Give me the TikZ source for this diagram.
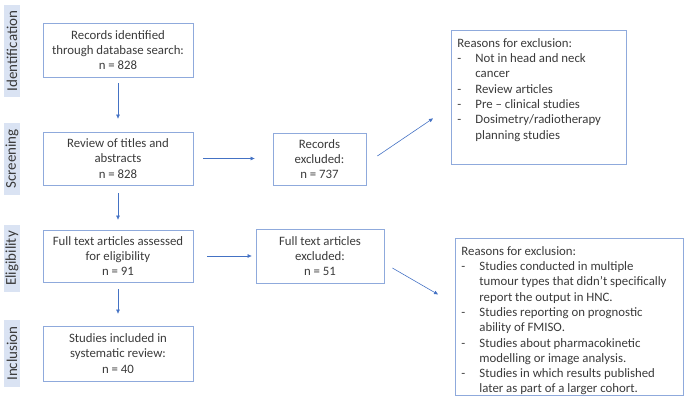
\documentclass[tikz,border=0pt]{standalone}
\usepackage{fontspec}
\setmainfont{Carlito}
\usepackage{xcolor}
\usepackage{tikz}
\usetikzlibrary{
  arrows.meta,
  positioning
}
\definecolor{stagecolor}{HTML}{DAE3F3}
\definecolor{boxcolor}{HTML}{8FAADC}
\definecolor{arrowcolor}{HTML}{4472C4}
\definecolor{txtcolor}{HTML}{3A3A3A}
\newcommand{\ritem}[1]{\makebox[18pt][l]{-}\mbox{#1}}
\newcommand{\rcont}[1]{\hspace*{18pt}\mbox{#1}}

\begin{document}
\begin{tikzpicture}[x=1pt, y=-1pt,
  stage/.style={fill=stagecolor, rotate=90, minimum height=16pt,
                inner sep=0pt, text=txtcolor,
                font=\fontsize{15}{18}\selectfont},
  box/.style={draw=boxcolor, line width=0.8pt,
              minimum width=150pt, minimum height=54pt,
              inner sep=2pt, align=center, text=txtcolor,
              font=\fontsize{12.8}{15.3}\selectfont},
  reason/.style={draw=boxcolor, line width=0.8pt, anchor=north west,
                 inner xsep=6pt, inner ysep=8pt, text=txtcolor,
                 font=\fontsize{12.8}{15.3}\selectfont},
  arrow/.style={-{Triangle[length=4pt, width=3.5pt]}, arrowcolor,
                line width=0.6pt},
]
  \useasboundingbox (0,0) rectangle (685,404);

  % Stages
  \node[stage, minimum width=92pt] (ident) at (12,51) {Identification};
  \node[stage, minimum width=72pt] (screen) at (12,159) {Screening};
  \node[stage, minimum width=67pt] (elig) at (12,258.5) {Eligibility};
  \node[stage, minimum width=67pt] (incl) at (12,353.5) {Inclusion};

  % Main column
  \node[box] (found) at (118,50)
    {Records identified\\through database search:\\n = 828};
  \node[box, minimum height=53pt] (review) at (118,158.5)
    {Review of titles and\\abstracts\\n = 828};
  \node[box, minimum height=52pt] (fulltext) at (118,256)
    {Full text articles assessed\\for eligibility\\n = 91};
  \node[box, minimum height=55pt] (included) at (118,353.5)
    {Studies included in\\systematic review:\\n = 40};

  \draw[arrow, shorten <=6pt, shorten >=13pt] (found) -- (review);
  \draw[arrow, shorten <=8pt, shorten >=10pt] (review) -- (fulltext);
  \draw[arrow, shorten <=7pt, shorten >=12pt] (fulltext) -- (included);

  % Exclusions
  \node[box, minimum width=93pt, minimum height=52pt] (recexcl) at (319.5,159)
    {Records\\excluded:\\n = 737};
  \node[box, minimum width=128pt] (ftexcl) at (320,256)
    {Full text articles\\excluded:\\n = 51};

  \draw[arrow, shorten <=10pt, shorten >=18pt] (review.east) -- (recexcl.west |- review.east);
  \draw[arrow, shorten <=14pt, shorten >=4pt] (fulltext.east) -- (ftexcl.west |- fulltext.east);

  % Reasons
  \node[reason] (why1) at (451,30)
    {\begin{minipage}[t][118pt][t]{163pt}
      Reasons for exclusion:\\
      \ritem{Not in head and neck}\\
      \rcont{cancer}\\
      \ritem{Review articles}\\
      \ritem{Pre -- clinical studies}\\
      \ritem{Dosimetry/radiotherapy}\\
      \rcont{planning studies}
    \end{minipage}};
  \node[reason] (why2) at (455,238)
    {\begin{minipage}[t][141pt][t]{216pt}
      Reasons for exclusion:\\
      \ritem{Studies conducted in multiple}\\
      \rcont{tumour types that didn’t specifically}\\
      \rcont{report the output in HNC.}\\
      \ritem{Studies reporting on prognostic}\\
      \rcont{ability of FMISO.}\\
      \ritem{Studies about pharmacokinetic}\\
      \rcont{modelling or image analysis.}\\
      \ritem{Studies in which results published}\\
      \rcont{later as part of a larger cohort.}
    \end{minipage}};

  \draw[arrow] ([xshift=11pt, yshift=3pt]recexcl.east)
    -- ([xshift=-18pt, yshift=-21pt]why1.west);
  \draw[arrow] ([xshift=8pt, yshift=-12pt]ftexcl.east)
    -- ([xshift=-17pt, yshift=22.5pt]why2.west);

\end{tikzpicture}
\end{document}
